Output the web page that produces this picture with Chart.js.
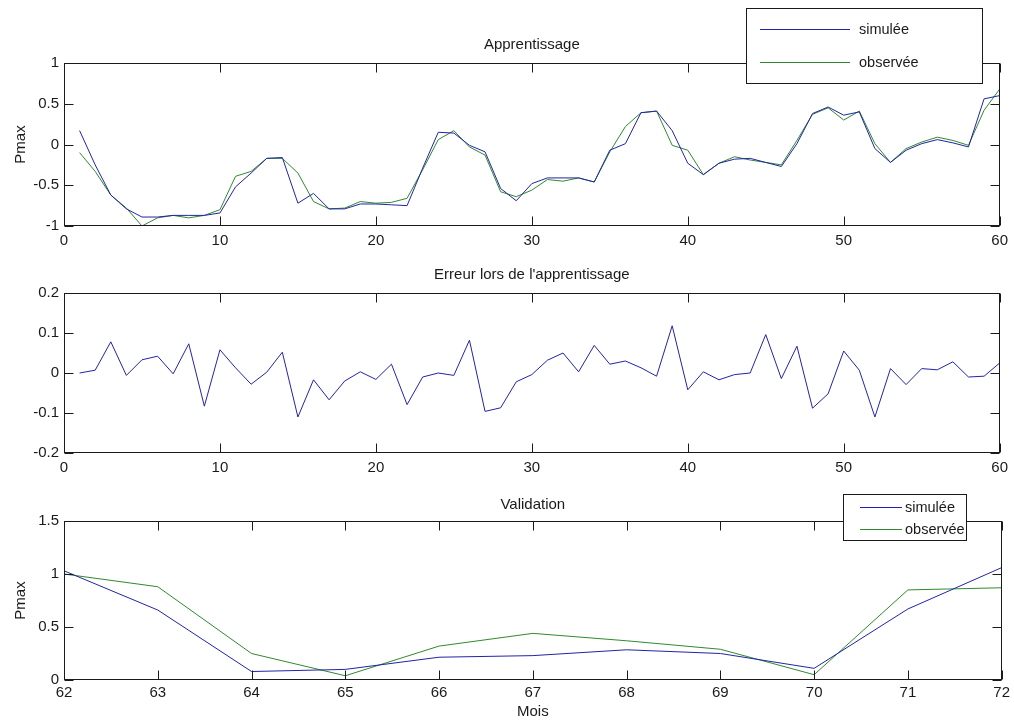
<!DOCTYPE html>
<html>
<head>
<meta charset="utf-8">
<script src="https://cdn.jsdelivr.net/npm/chart.js@4/dist/chart.umd.min.js"></script>
<style>
html, body { margin: 0; padding: 0; background: #fff; }
#wrap { position: relative; width: 1014px; height: 722px; overflow: hidden; }
canvas { position: absolute; left: 0; }
</style>
</head>
<body>
<div id="wrap">
  <canvas id="trainChart" width="1014" height="256" style="top:0px"></canvas>
  <canvas id="errChart" width="1014" height="226" style="top:256px"></canvas>
  <canvas id="valChart" width="1014" height="240" style="top:482px"></canvas>
</div>
<script>
// months used for training / validation
const trainMonths = [1,2,3,4,5,6,7,8,9,10,11,12,13,14,15,16,17,18,19,20,21,22,23,24,25,26,27,28,29,30,
                     31,32,33,34,35,36,37,38,39,40,41,42,43,44,45,46,47,48,49,50,51,52,53,54,55,56,57,58,59,60];
const trainSim = [0.17,-0.25,-0.62,-0.79,-0.89,-0.89,-0.87,-0.87,-0.87,-0.84,-0.52,-0.35,-0.17,-0.16,-0.72,-0.60,-0.79,-0.79,-0.73,-0.73,
                  -0.74,-0.75,-0.29,0.15,0.14,-0.01,-0.09,-0.54,-0.69,-0.48,-0.41,-0.41,-0.41,-0.46,-0.07,0.01,0.39,0.41,0.17,-0.23,
                  -0.37,-0.23,-0.18,-0.17,-0.22,-0.27,0.01,0.38,0.46,0.36,0.40,-0.05,-0.22,-0.07,0.01,0.06,0.02,-0.03,0.56,0.60];
const trainObs = [-0.10,-0.33,-0.62,-0.78,-1.00,-0.90,-0.87,-0.90,-0.87,-0.80,-0.39,-0.33,-0.17,-0.17,-0.35,-0.70,-0.79,-0.78,-0.70,-0.72,
                  -0.71,-0.66,-0.31,0.06,0.17,-0.03,-0.13,-0.58,-0.64,-0.56,-0.43,-0.45,-0.41,-0.46,-0.09,0.22,0.39,0.41,-0.01,-0.07,
                  -0.37,-0.23,-0.15,-0.19,-0.22,-0.25,0.05,0.37,0.45,0.30,0.41,0.01,-0.22,-0.05,0.03,0.09,0.05,-0.01,0.42,0.68];
const trainErr = [0,0.007,0.078,-0.006,0.033,0.042,-0.002,0.073,-0.083,0.058,0.013,-0.028,0.002,0.052,-0.11,-0.017,-0.067,-0.02,0.003,-0.016,
                  0.022,-0.079,-0.01,0,-0.006,0.082,-0.096,-0.087,-0.022,-0.004,0.032,0.05,0.003,0.069,0.022,0.03,0.013,-0.008,0.118,-0.042,
                  0.003,-0.017,-0.004,0,0.096,-0.014,0.067,-0.088,-0.052,0.055,0.007,-0.11,0.011,-0.029,0.011,0.008,0.028,-0.01,-0.008,0.025];

const valMonths = [62,63,64,65,66,67,68,69,70,71,72];
const valSim = [1.03,0.66,0.08,0.10,0.215,0.23,0.285,0.25,0.11,0.67,1.06];
const valObs = [1.00,0.88,0.25,0.04,0.32,0.44,0.37,0.29,0.05,0.85,0.87];

const seriesLabels = ['simulée', 'observée'];

const BLUE = '#2323a8';
const GREEN = '#2f8a2f';
const INK = '#1a1a1a';

Chart.defaults.font.family = "'Liberation Sans', Arial, sans-serif";
Chart.defaults.font.size = 15;
Chart.defaults.color = INK;

const pts = (xs, ys) => xs.map((x, i) => ({x: x, y: ys[i]}));
const fmt = v => String(+(+v).toFixed(2));

// inward ticks on all four sides + box, like matlab axes
const matlabBox = {
    id: 'matlabBox',
    afterDatasetsDraw(chart) {
        const {ctx, chartArea: a, scales} = chart;
        const len = 9;
        const L = Math.round(a.left) + 0.5, R = Math.round(a.right) - 0.5;
        const T = Math.round(a.top) + 0.5, B = Math.round(a.bottom) - 0.5;
        ctx.save();
        ctx.strokeStyle = INK;
        ctx.lineWidth = 1;
        ctx.beginPath();
        scales.x.ticks.forEach(t => {
            const px = Math.round(scales.x.getPixelForValue(t.value)) + 0.5;
            ctx.moveTo(px, B); ctx.lineTo(px, B - len);
            ctx.moveTo(px, T); ctx.lineTo(px, T + len);
        });
        scales.y.ticks.forEach(t => {
            const py = Math.round(scales.y.getPixelForValue(t.value)) + 0.5;
            ctx.moveTo(L, py); ctx.lineTo(L + len, py);
            ctx.moveTo(R, py); ctx.lineTo(R - len, py);
        });
        ctx.stroke();
        ctx.strokeRect(L, T, R - L, B - T);
        ctx.restore();
    }
};

// boxed legend drawn over the plot
const boxLegend = {
    id: 'boxLegend',
    afterDraw(chart, args, o) {
        if (!o || !o.show) return;
        const ctx = chart.ctx;
        ctx.save();
        ctx.fillStyle = '#fff';
        ctx.fillRect(o.x, o.y, o.w, o.h);
        ctx.strokeStyle = INK;
        ctx.lineWidth = 1;
        ctx.strokeRect(o.x + 0.5, o.y + 0.5, o.w, o.h);
        ctx.font = "14.5px 'Liberation Sans', Arial, sans-serif";
        ctx.textBaseline = 'middle';
        ctx.fillStyle = INK;
        chart.data.datasets.forEach((ds, i) => {
            const y = Math.round(o.y + o.row0 + i * o.rowGap) + 0.5;
            ctx.strokeStyle = ds.borderColor;
            ctx.beginPath();
            ctx.moveTo(o.x + o.l0, y);
            ctx.lineTo(o.x + o.l1, y);
            ctx.stroke();
            ctx.fillText(ds.label, o.x + o.tx, y);
        });
        ctx.restore();
    }
};

function lineSet(label, data, color) {
    return {
        label: label,
        data: data,
        borderColor: color,
        backgroundColor: color,
        borderWidth: 1,
        pointRadius: 0,
        tension: 0,
        fill: false
    };
}

function makeChart(id, opt) {
    return new Chart(document.getElementById(id), {
        type: 'line',
        data: { datasets: opt.datasets },
        plugins: [matlabBox, boxLegend],
        options: {
            responsive: false,
            animation: false,
            layout: { padding: { left: 0, right: 11, top: 0, bottom: 0 } },
            plugins: {
                legend: { display: false },
                tooltip: { enabled: false },
                title: {
                    display: true,
                    text: opt.title,
                    fullSize: false,
                    font: { size: 15, weight: 'normal' },
                    color: INK,
                    padding: opt.titlePad
                },
                boxLegend: opt.legend || { show: false }
            },
            scales: {
                x: {
                    type: 'linear',
                    min: opt.xMin, max: opt.xMax,
                    grid: { display: false, drawTicks: false },
                    border: { display: false },
                    ticks: { stepSize: opt.xStep, padding: opt.xPad, maxRotation: 0, autoSkip: false, callback: fmt },
                    title: opt.xTitle ? { display: true, text: opt.xTitle, padding: { top: 0, bottom: 1 } } : { display: false },
                    afterFit: s => { s.height = opt.xH; }
                },
                y: {
                    min: opt.yMin, max: opt.yMax,
                    grid: { display: false, drawTicks: false },
                    border: { display: false },
                    ticks: { stepSize: opt.yStep, padding: 5, callback: fmt },
                    title: opt.yTitle ? { display: true, text: opt.yTitle, padding: { top: 12, bottom: 0 } } : { display: false },
                    afterFit: s => { s.width = 64; }
                }
            }
        }
    });
}

makeChart('trainChart', {
    title: 'Apprentissage',
    titlePad: { top: 36, bottom: 9 },
    datasets: [
        lineSet(seriesLabels[0], pts(trainMonths, trainSim), BLUE),
        lineSet(seriesLabels[1], pts(trainMonths, trainObs), GREEN)
    ],
    xMin: 0, xMax: 60, xStep: 10, xPad: 6, xH: 30,
    yMin: -1, yMax: 1, yStep: 0.5,
    yTitle: 'Pmax',
    legend: { show: true, x: 746, y: 8, w: 236, h: 75, row0: 21, rowGap: 33, l0: 14, l1: 104, tx: 113 }
});

makeChart('errChart', {
    title: "Erreur lors de l'apprentissage",
    titlePad: { top: 10, bottom: 9 },
    datasets: [
        lineSet('erreur', pts(trainMonths, trainErr), BLUE)
    ],
    xMin: 0, xMax: 60, xStep: 10, xPad: 6, xH: 29,
    yMin: -0.2, yMax: 0.2, yStep: 0.1
});

makeChart('valChart', {
    title: 'Validation',
    titlePad: { top: 14, bottom: 7 },
    datasets: [
        lineSet(seriesLabels[0], pts(valMonths, valSim), BLUE),
        lineSet(seriesLabels[1], pts(valMonths, valObs), GREEN)
    ],
    xMin: 62, xMax: 72, xStep: 1, xPad: 4, xH: 42,
    yMin: 0, yMax: 1.5, yStep: 0.5,
    yTitle: 'Pmax',
    xTitle: 'Mois',
    legend: { show: true, x: 843, y: 12, w: 123, h: 46, row0: 13, rowGap: 22, l0: 17, l1: 59, tx: 62 }
});
</script>
</body>
</html>
